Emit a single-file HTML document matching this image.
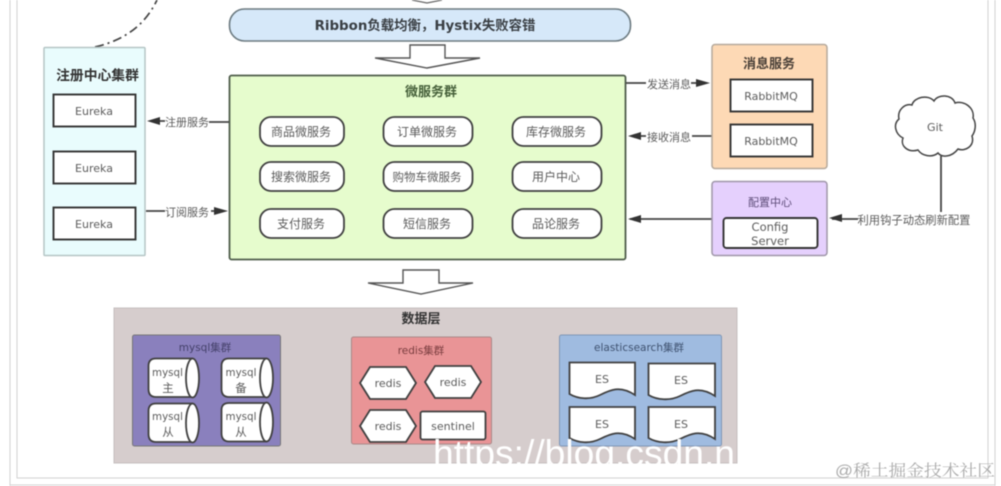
<!DOCTYPE html>
<html><head><meta charset="utf-8">
<style>
html,body{margin:0;padding:0;background:#fff;width:1001px;height:486px;overflow:hidden}
svg{display:block;filter:blur(0.6px)}
text{font-family:"DejaVu Sans","Noto Sans CJK SC",sans-serif;text-anchor:middle;fill:#5c5c5c}
.b{font-weight:700;fill:#333}
.cn{font-size:12px;dominant-baseline:auto}
.box{fill:#fff;stroke:#333;stroke-width:1.9}
.ln{stroke:#444;stroke-width:1.8;fill:none}
.ah{fill:#333}
.s{fill:#fff;stroke:#404040;stroke-width:1.8}
</style></head><body>
<svg width="1001" height="486" viewBox="0 0 1001 486" xmlns="http://www.w3.org/2000/svg">
<!-- page frame -->
<g stroke="#d2d2d2" stroke-width="1" fill="none">
<path d="M10 0V486M17 0V478H988V0M995 0V486M10 485H995"/>
</g>
<!-- dashed curve -->
<path d="M95 47C125 40 145 25 157 0" fill="none" stroke="#444" stroke-width="1.7" stroke-dasharray="9 4 2 4"/>
<!-- top arrow tip -->
<path d="M412 0L427 3L442 0" fill="#fff" stroke="#666" stroke-width="1.2"/>
<!-- ribbon -->
<rect x="229.500" y="9" width="401" height="32" rx="15" fill="#d6e8f9" stroke="#6c7a80" stroke-width="1.6"/>
<text class="b" x="425" y="30" font-size="13.400" style="fill:#3a3f44">Ribbon负载均衡，Hystix失败容错</text>
<!-- arrows big -->
<path d="M410 45H445V58H480L427 68L375 58H410Z" fill="#fff" stroke="#555" stroke-width="1.4"/>
<path d="M403 270H439V283H473L421 294L368 283H403Z" fill="#fff" stroke="#555" stroke-width="1.4"/>
<!-- registry -->
<rect x="44" y="47.500" width="101" height="208" rx="1" fill="#e9fcfd" stroke="#b5c5c5" stroke-width="1.5"/>
<text class="b" x="97.500" y="80" font-size="13.800">注册中心集群</text>
<g><rect class="box" x="53.500" y="94.500" width="82" height="32"/><text x="94" y="115" font-size="11">Eureka</text>
<rect class="box" x="53.500" y="151.500" width="82" height="32"/><text x="94" y="172" font-size="11">Eureka</text>
<rect class="box" x="53.500" y="207.500" width="82" height="32"/><text x="94" y="228" font-size="11">Eureka</text></g>
<!-- micro -->
<rect x="229.500" y="75.500" width="396" height="184" rx="2" fill="#e6fccd" stroke="#4f5d4b" stroke-width="1.8"/>
<text class="b" x="431" y="96" font-size="13" style="fill:#46603a">微服务群</text>
<g>
<rect class="s" x="260" y="117" width="84" height="29" rx="11"/><text class="cn" x="301" y="136">商品微服务</text>
<rect class="s" x="383.500" y="117" width="89" height="29" rx="11"/><text class="cn" x="427" y="136">订单微服务</text>
<rect class="s" x="512.500" y="117" width="89" height="29" rx="11"/><text class="cn" x="556" y="136">库存微服务</text>
<rect class="s" x="260" y="162" width="84" height="29" rx="11"/><text class="cn" x="301" y="181">搜索微服务</text>
<rect class="s" x="383.500" y="162" width="89" height="29" rx="11"/><text class="cn" x="427" y="181" style="font-size:11.500px">购物车微服务</text>
<rect class="s" x="512.500" y="162" width="89" height="29" rx="11"/><text class="cn" x="556" y="181">用户中心</text>
<rect class="s" x="260" y="209" width="84" height="29" rx="11"/><text class="cn" x="301" y="228">支付服务</text>
<rect class="s" x="383.500" y="209" width="89" height="29" rx="11"/><text class="cn" x="427" y="228">短信服务</text>
<rect class="s" x="512.500" y="209" width="89" height="29" rx="11"/><text class="cn" x="556" y="228">品论服务</text>
</g>
<!-- connectors -->
<path class="ln" d="M229 122H209M146 211H165M626 83H646M712 136H692M712 219H630M858 219H832M941 156V212"/>
<path class="ln" d="M155 121H165M211 211H218M691 83H700M636 136H646"/>
<path class="ah" d="M147 121L160 117V125ZM228 211L214 207V215ZM710 83L696 79V87ZM628 136L641 132V140ZM628 219L641 215V223ZM829 218L842 214V222Z"/>
<text class="cn" x="187" y="126" style="font-size:11px">注册服务</text>
<text class="cn" x="187" y="216" style="font-size:11px">订阅服务</text>
<text class="cn" x="669" y="88" style="font-size:11px">发送消息</text>
<text class="cn" x="669" y="141" style="font-size:11px">接收消息</text>
<text class="cn" x="914" y="224" style="font-size:11.300px">利用钩子动态刷新配置</text>
<!-- message -->
<rect x="712" y="44.500" width="115" height="124" rx="3" fill="#fdd9b5" stroke="#b5a99c" stroke-width="1.5"/>
<text class="b" x="769" y="68" font-size="13" style="fill:#4a4038">消息服务</text>
<rect class="box" x="730.500" y="79.500" width="82" height="32"/><text x="771" y="100" font-size="11">RabbitMQ</text>
<rect class="box" x="730.500" y="124.500" width="82" height="32"/><text x="771" y="145" font-size="11">RabbitMQ</text>
<!-- config -->
<rect x="712" y="181.500" width="115" height="74" rx="3" fill="#e5d0fd" stroke="#9f96a8" stroke-width="1.5"/>
<text class="cn" x="770" y="206" style="font-size:11px;fill:#5d4c78">配置中心</text>
<rect class="box" x="723.500" y="218" width="94" height="30" rx="3"/>
<text x="770" y="231" font-size="11.500">Config</text><text x="770" y="245" font-size="11.500">Server</text>
<!-- git -->
<path d="M918 150C908 153 900 146 903 138C895 134 893 124 899 119C897 110 905 103 912 105C914 97 928 94 934 101C938 94 952 94 955 103C964 100 975 108 973 118C977 124 975 132 972 136C975 146 965 152 958 149C952 157 942 158 938 153C932 158 922 156 918 150Z" fill="#fff" stroke="#444" stroke-width="1.5"/>
<text x="935" y="131" font-size="11">Git</text>
<!-- data layer -->
<rect x="114" y="308" width="623" height="155" fill="#d6cdcd" stroke="#c5bfbf"/>
<text class="b" x="421" y="323" font-size="13">数据层</text>
<!-- mysql -->
<rect x="132.500" y="335" width="148" height="111" rx="2" fill="#8a80bd" stroke="#777"/>
<text x="205" y="351" font-size="10.500" style="fill:#44406a">mysql集群</text>
<g id="cyl">
<path class="s" d="M156 358.500H192.500A6.500 19.500 0 0 1 192.500 397H156Q148.500 397 148.500 389V366Q148.500 358.500 156 358.500Z"/><ellipse class="s" cx="192.500" cy="378" rx="6.500" ry="19.500"/>
<path class="s" d="M229 358.500H266.500A6.500 19.500 0 0 1 266.500 397H229Q221.500 397 221.500 389V366Q221.500 358.500 229 358.500Z"/><ellipse class="s" cx="266.500" cy="378" rx="6.500" ry="19.500"/>
<path class="s" d="M156 403.500H192.500A6.500 19.500 0 0 1 192.500 442H156Q148.500 442 148.500 434V411Q148.500 403.500 156 403.500Z"/><ellipse class="s" cx="192.500" cy="423" rx="6.500" ry="19.500"/>
<path class="s" d="M229 403H266.500A6.500 19.500 0 0 1 266.500 441.500H229Q221.500 441.500 221.500 433V410Q221.500 403 229 403Z"/><ellipse class="s" cx="266.500" cy="422" rx="6.500" ry="19.500"/>
</g>
<g font-size="10.300">
<text x="167.500" y="376">mysql</text><text x="168" y="392" font-size="11.500">主</text>
<text x="241" y="376">mysql</text><text x="241" y="392" font-size="11.500">备</text>
<text x="167.500" y="420">mysql</text><text x="168" y="436" font-size="11.500">从</text>
<text x="241" y="420">mysql</text><text x="241" y="436" font-size="11.500">从</text>
</g>
<!-- redis -->
<rect x="351.500" y="337" width="140" height="107" rx="2" fill="#e99496" stroke="#a88"/>
<text x="421" y="354" font-size="10.500" style="fill:#7a3d3f">redis集群</text>
<path class="s" d="M370 367H406L416 383L406 399H370L360 383Z"/><text x="388" y="387" font-size="11">redis</text>
<path class="s" d="M435 366H471L481 382L471 398H435L425 382Z"/><text x="453" y="386" font-size="11">redis</text>
<path class="s" d="M370 410H406L416 426L406 442H370L360 426Z"/><text x="388" y="430" font-size="11">redis</text>
<rect class="s" x="420.500" y="411.500" width="65" height="28" rx="2"/><text x="453" y="430" font-size="11">sentinel</text>
<!-- es -->
<rect x="559.500" y="335" width="162" height="111" rx="2" fill="#9fbbe0" stroke="#7f96b5"/>
<text x="639" y="351" font-size="10.500" style="fill:#3f5270">elasticsearch集群</text>
<path class="s" d="M569.500 362.500H635V395C620 385 610 390 600 395C590 400 578 399 569.500 394Z"/><text x="602" y="383" font-size="11">ES</text>
<path class="s" d="M648.500 363.500H715V396C700 386 690 391 680 396C670 401 657 400 648.500 395Z"/><text x="681" y="384" font-size="11">ES</text>
<path class="s" d="M569.500 407H635V439C620 429 610 434 600 439C590 444 578 443 569.500 438Z"/><text x="602" y="428" font-size="11">ES</text>
<path class="s" d="M648.500 407H715V439C700 429 690 434 680 439C670 444 657 443 648.500 438Z"/><text x="681" y="428" font-size="11">ES</text>
<!-- watermarks -->
<text x="433" y="466" font-size="37" textLength="302" lengthAdjust="spacingAndGlyphs" style="font-family:'Liberation Sans',sans-serif;text-anchor:start;fill:#fff">https://blog.csdn.n</text>
<text x="835" y="476" font-size="16" textLength="160" lengthAdjust="spacingAndGlyphs" style="font-family:'Liberation Sans','Noto Serif CJK SC',serif;text-anchor:start;fill:#aaa">@稀土掘金技术社区</text>
</svg>
</body></html>
